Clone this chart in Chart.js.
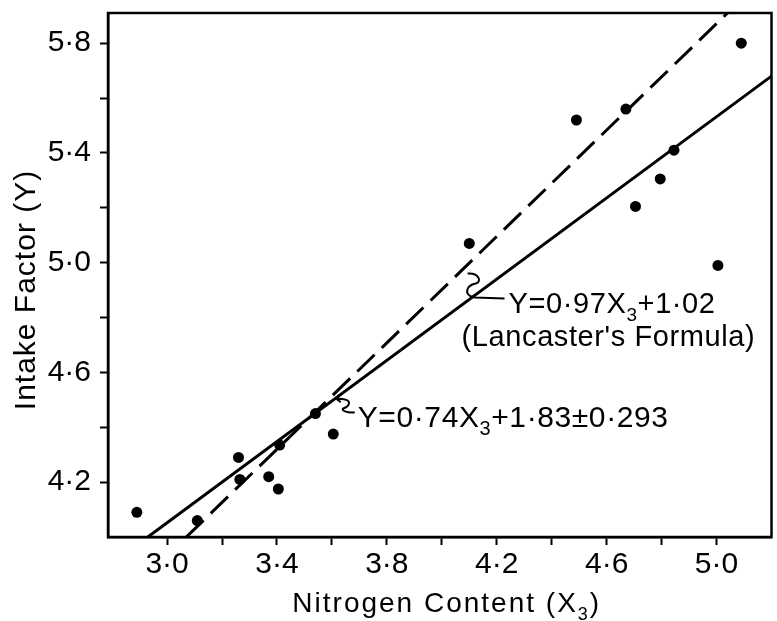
<!DOCTYPE html>
<html>
<head>
<meta charset="utf-8">
<script src="https://cdn.jsdelivr.net/npm/chart.js@4.4.1/dist/chart.umd.min.js"></script>
<style>
  html, body { margin: 0; padding: 0; background: #fff; }
  #wrap { width: 777px; height: 621px; position: relative; }
</style>
</head>
<body>
<div id="wrap"><canvas id="chart"></canvas></div>
<script>
// observed samples: nitrogen content (X3) against intake factor (Y)
const nitrogen = [2.89, 3.11, 3.26, 3.265, 3.37, 3.405, 3.41, 3.54, 3.605, 4.10, 4.49, 4.67, 4.705, 4.795, 4.845, 5.005, 5.09];
const intake   = [4.09, 4.06, 4.29, 4.21, 4.22, 4.175, 4.335, 4.45, 4.375, 5.07, 5.52, 5.56, 5.205, 5.305, 5.41, 4.99, 5.80];

// fitted lines, end points
const fitX = [2.93, 5.20];
const fitY = [4.00, 5.68];
const lancasterX = [3.07, 5.04];
const lancasterY = [4.00, 5.91];

// axis ticks
const xTicks = [3.0, 3.2, 3.4, 3.6, 3.8, 4.0, 4.2, 4.4, 4.6, 4.8, 5.0];
const xLabels = [3.0, 3.4, 3.8, 4.2, 4.6, 5.0];
const yTicks = [4.2, 4.4, 4.6, 4.8, 5.0, 5.2, 5.4, 5.6, 5.8];
const yLabels = [4.2, 4.6, 5.0, 5.4, 5.8];

const FONT = "'Liberation Sans', Arial, sans-serif";
const fmt = v => v.toFixed(1).replace('.', '\u00b7');

function drawParts(ctx, parts, x, y, size) {
  // parts: [text, isSubscript]
  ctx.textAlign = 'left';
  ctx.textBaseline = 'alphabetic';
  for (const [t, sub] of parts) {
    ctx.font = (sub ? Math.round(size * 0.66) : size) + 'px ' + FONT;
    ctx.fillText(t, x, y + (sub ? 8 : 0));
    x += ctx.measureText(t).width;
  }
  return x;
}

function partsWidth(ctx, parts, size) {
  let w = 0;
  for (const [t, sub] of parts) {
    ctx.font = (sub ? Math.round(size * 0.66) : size) + 'px ' + FONT;
    w += ctx.measureText(t).width;
  }
  return w;
}

const notes = {
  id: 'notes',
  afterDatasetsDraw(chart) {
    const { ctx, chartArea: a, scales: { x, y } } = chart;
    ctx.save();
    ctx.strokeStyle = '#000';
    ctx.fillStyle = '#000';

    // box round the plot
    ctx.lineWidth = 2.5;
    ctx.strokeRect(a.left, a.top, a.right - a.left, a.bottom - a.top);

    ctx.letterSpacing = '0.6px';

    // Lancaster's formula label
    let px = x.getPixelForValue(4.243), py = y.getPixelForValue(4.818);
    drawParts(ctx, [['Y=0\u00b797X', 0], ['3', 1], ['+1\u00b702', 0]], px, py, 29);
    ctx.font = '29px ' + FONT;
    ctx.fillText("(Lancaster's Formula)", x.getPixelForValue(4.072), y.getPixelForValue(4.698));
    ctx.lineWidth = 2;
    ctx.beginPath();
    ctx.moveTo(px - 4, py - 14);
    ctx.lineTo(px - 34, py - 15);
    ctx.moveTo(px - 34, py - 15);
    ctx.bezierCurveTo(px - 46, py - 18, px - 42, py - 27, px - 33, py - 29);
    ctx.bezierCurveTo(px - 26, py - 31, px - 30, py - 40, px - 41, py - 39);
    ctx.stroke();

    // regression label
    px = x.getPixelForValue(3.694); py = y.getPixelForValue(4.40);
    drawParts(ctx, [['Y=0\u00b774X', 0], ['3', 1], ['+1\u00b783\u00b10\u00b7293', 0]], px, py, 30);
    ctx.beginPath();
    ctx.moveTo(px - 22, py - 29);
    ctx.lineTo(px - 14, py - 28);
    ctx.bezierCurveTo(px - 6, py - 27, px - 8, py - 21, px - 14, py - 19);
    ctx.bezierCurveTo(px - 18, py - 17, px - 10, py - 14, px - 3, py - 15);
    ctx.moveTo(px - 22, py - 29);
    ctx.lineTo(px - 17, py - 33);
    ctx.moveTo(px - 22, py - 29);
    ctx.lineTo(px - 17, py - 25);
    ctx.stroke();

    // axis titles
    ctx.letterSpacing = '2px';
    const xt = [['Nitrogen Content (X', 0], ['3', 1], [')', 0]];
    const w = partsWidth(ctx, xt, 28);
    drawParts(ctx, xt, (a.left + a.right) / 2 + 7 - w / 2, 612, 28);

    ctx.letterSpacing = '1px';
    ctx.translate(35, (a.top + a.bottom) / 2 + 15);
    ctx.rotate(-Math.PI / 2);
    ctx.font = '30px ' + FONT;
    ctx.textAlign = 'center';
    ctx.textBaseline = 'alphabetic';
    ctx.fillText('Intake Factor (Y)', 0, 0);
    ctx.restore();
  }
};

const tickFont = { family: FONT, size: 30 };

new Chart(document.getElementById('chart'), {
  type: 'scatter',
  data: {
    datasets: [
      {
        label: 'Observed',
        data: nitrogen.map((v, i) => ({ x: v, y: intake[i] })),
        pointRadius: 5.5,
        backgroundColor: '#000',
        borderWidth: 0
      },
      {
        type: 'line',
        label: 'Y = 0.74 X3 + 1.83',
        data: fitX.map((v, i) => ({ x: v, y: fitY[i] })),
        borderColor: '#000',
        borderWidth: 3,
        pointRadius: 0,
        fill: false
      },
      {
        type: 'line',
        label: "Lancaster's formula",
        data: lancasterX.map((v, i) => ({ x: v, y: lancasterY[i] })),
        borderColor: '#000',
        borderWidth: 3,
        borderDash: [24, 10],
        pointRadius: 0,
        fill: false
      }
    ]
  },
  options: {
    responsive: true,
    maintainAspectRatio: false,
    animation: false,
    layout: { padding: { top: 13, right: 5, left: 0, bottom: 0 } },
    plugins: {
      legend: { display: false },
      tooltip: { enabled: false }
    },
    scales: {
      x: {
        type: 'linear',
        min: 2.785,
        max: 5.2,
        afterBuildTicks: s => { s.ticks = xTicks.map(v => ({ value: v })) },
        afterFit: s => { s.height = 84; s.paddingLeft = 0; s.paddingRight = 0 },
        grid: { drawOnChartArea: false, drawTicks: true, tickLength: 8, tickWidth: 2, tickColor: '#000' },
        border: { display: true, color: '#000', width: 2.5 },
        ticks: {
          autoSkip: false,
          maxRotation: 0,
          padding: 2,
          color: '#000',
          font: tickFont,
          callback: v => xLabels.includes(v) ? fmt(v) : ''
        }
      },
      y: {
        type: 'linear',
        min: 4.0,
        max: 5.91,
        afterBuildTicks: s => { s.ticks = yTicks.map(v => ({ value: v })) },
        afterFit: s => { s.width = 108; s.paddingTop = 0; s.paddingBottom = 0 },
        grid: { drawOnChartArea: false, drawTicks: true, tickLength: 8, tickWidth: 2, tickColor: '#000' },
        border: { display: true, color: '#000', width: 2.5 },
        ticks: {
          autoSkip: false,
          padding: 9,
          color: '#000',
          font: tickFont,
          callback: v => yLabels.includes(v) ? fmt(v) : ''
        }
      }
    }
  },
  plugins: [notes]
});
</script>
</body>
</html>
